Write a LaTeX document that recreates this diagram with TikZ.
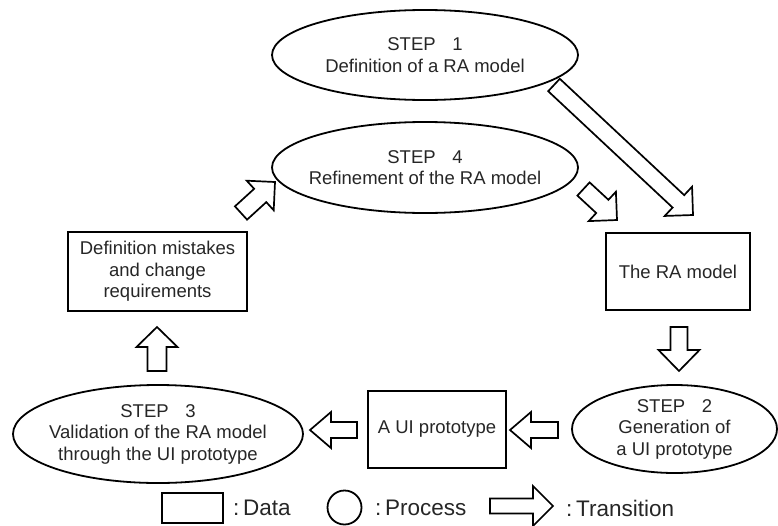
\documentclass[tikz,border=0pt]{standalone}
\usepackage{fontspec}
\setmainfont{Liberation Sans}
\usetikzlibrary{shapes.geometric,calc}

% Hollow block arrow from tail #1 to tip #2;
% #3 shaft width, #4 head width, #5 head length.
\newcommand\blockarrow[5]{%
  \coordinate (hb) at ($(#2)!#5!(#1)$);
  \draw[trans]
    ($(#1)!#3/2!90:(#2)$) -- ($(hb)!#3/2!90:(#2)$) --
    ($(hb)!#4/2!90:(#2)$) -- (#2) --
    ($(hb)!#4/2!-90:(#2)$) -- ($(hb)!#3/2!-90:(#2)$) --
    ($(#1)!#3/2!-90:(#2)$) -- cycle;
}

\begin{document}
\begin{tikzpicture}[x=1pt,y=-1pt,
  proc/.style={draw, ellipse, line width=1.8pt, inner sep=0pt},
  databox/.style={draw, line width=2.4pt, inner sep=0pt},
  lbl/.style={align=center, inner sep=0pt,
    font=\fontsize{18.5}{21.5}\selectfont, text=black!85},
  keylbl/.style={inner sep=0pt, anchor=west,
    font=\fontsize{22.5}{26}\selectfont, text=black!85},
  trans/.style={draw, line width=1.7pt, fill=white, line join=miter},
]
\useasboundingbox (0,0) rectangle (778,525);

% processes
\node[proc, minimum width=306pt, minimum height=90pt] (s1) at (425,55) {};
\node[lbl] at (s1) {STEP\hspace{0.9em}1\\Definition of a RA model};

\node[proc, minimum width=306pt, minimum height=91pt] (s4) at (425,167.5) {};
\node[lbl] at (s4) {STEP\hspace{0.9em}4\\Refinement of the RA model};

\node[proc, minimum width=290pt, minimum height=98pt] (s3) at (158,434) {};
\node[lbl] at (s3) {STEP\hspace{0.9em}3\\Validation of the RA model\\through the UI prototype};

\node[proc, minimum width=205pt, minimum height=88pt] (s2) at (674.5,429) {};
\node[lbl] at (s2) {STEP\hspace{0.9em}2\\Generation of\\a UI prototype};

% data
\node[databox, lbl, minimum width=179pt, minimum height=79pt] (def) at (157.5,271.5)
  {Definition mistakes\\and change\\requirements};
\node[databox, lbl, minimum width=144pt, minimum height=77pt] (ra) at (678,271.5)
  {The RA model};
\node[databox, lbl, minimum width=138pt, minimum height=77pt] (ui) at (437,429.5)
  {A UI prototype};

% transitions
\coordinate (t1a) at (554,85);   \coordinate (t1b) at (693,215);
\coordinate (t2a) at (583.5,189); \coordinate (t2b) at (617,220);
\coordinate (t3a) at (679,327);  \coordinate (t3b) at (679,371);
\coordinate (t4a) at (558,430);  \coordinate (t4b) at (510,430);
\coordinate (t5a) at (357,430);  \coordinate (t5b) at (310,430);
\coordinate (t6a) at (157,371);  \coordinate (t6b) at (157,327);
\coordinate (t7a) at (241,213);  \coordinate (t7b) at (275,182);

\blockarrow{t1a}{t1b}{17pt}{40pt}{20pt}
\blockarrow{t2a}{t2b}{18pt}{40pt}{20pt}
\blockarrow{t3a}{t3b}{17pt}{41pt}{21pt}
\blockarrow{t4a}{t4b}{16pt}{36pt}{21pt}
\blockarrow{t5a}{t5b}{16pt}{36pt}{21pt}
\blockarrow{t6a}{t6b}{19pt}{41pt}{20pt}
\blockarrow{t7a}{t7b}{18pt}{40pt}{20pt}

% key
\node[databox, line width=2.2pt, minimum width=61pt, minimum height=30pt] (keyd) at (192.5,508) {};
\node[keylbl] (keydt) at (233,508) {:\,Data};
\node[draw, circle, line width=1.8pt, minimum size=34pt, inner sep=0pt] (keyp) at (344.5,507.5) {};
\node[keylbl] (keypt) at (375,508) {:\,Process};
\coordinate (kta) at (490,506); \coordinate (ktb) at (553,506);
\blockarrow{kta}{ktb}{15pt}{40pt}{20pt}
\node[keylbl] (keytt) at (566,508) {:\,Transition};
\end{tikzpicture}
\end{document}
